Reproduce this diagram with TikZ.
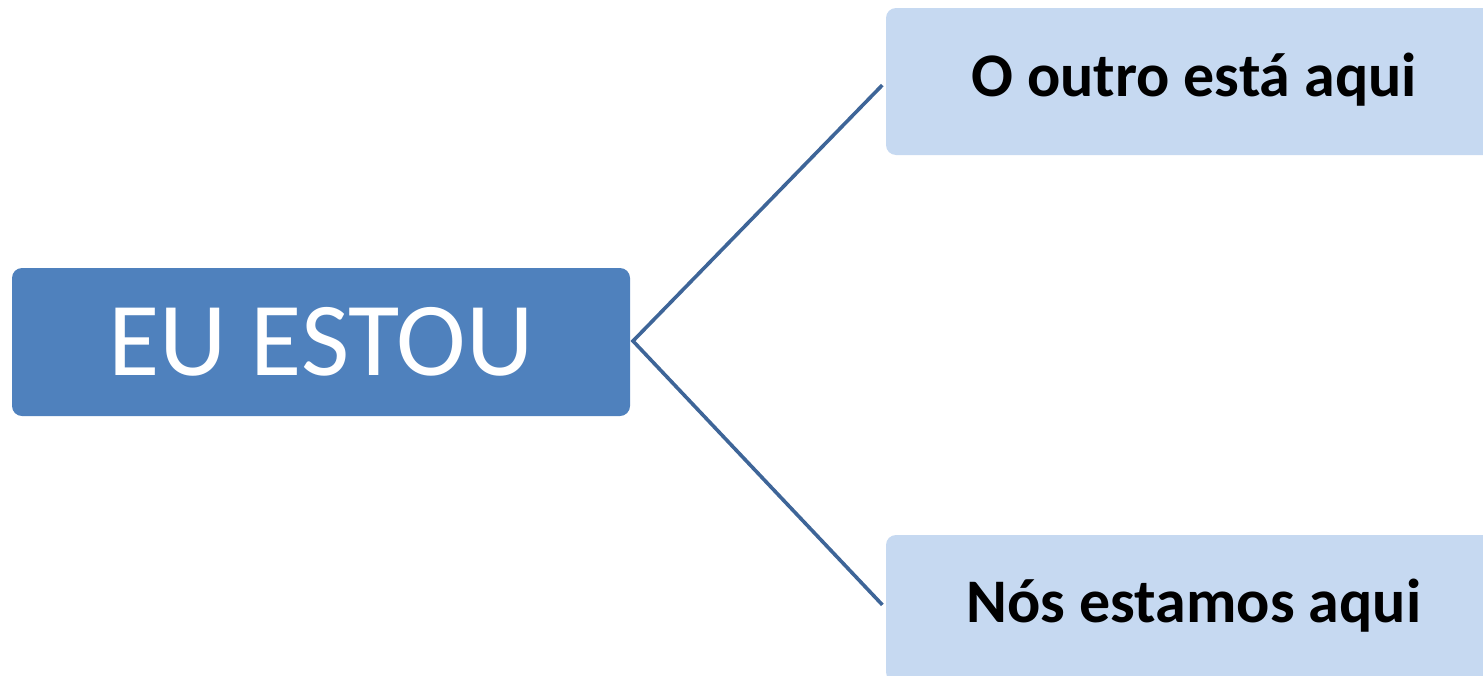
\documentclass[tikz,border=0pt]{standalone}
\usepackage{fontspec}
\setmainfont{Carlito}
\definecolor{darkbox}{HTML}{4F81BD}
\definecolor{lightbox}{HTML}{C6D9F1}
\definecolor{linkcol}{HTML}{3E6598}
\begin{document}
\begin{tikzpicture}[x=1pt,y=-1pt,
  mainbox/.style={fill=darkbox, rounded corners=10pt, text=white, minimum width=618pt, minimum height=148pt, inner sep=0pt, font=\fontsize{105}{115}\selectfont},
  sidebox/.style={fill=lightbox, rounded corners=10pt, text=black, minimum width=620pt, minimum height=147pt, inner sep=0pt},
  sidetext/.style={text=black, inner sep=0pt, font=\fontsize{62}{70}\selectfont\bfseries},
  link/.style={draw=linkcol, line width=3.6pt}]
\useasboundingbox (0,0) rectangle (1483,675);
\clip (0,0) rectangle (1483,675);
\node[mainbox] (L) at (321,342) {EU ESTOU};
\node[sidebox] (T) at (1196,81.5) {};
\node[sidebox] (B) at (1196,608.5) {};
\node[sidetext] (Tt) at (1194,80) {O outro está aqui};
\node[sidetext] (Bt) at (1194,606) {Nós estamos aqui};
\coordinate (J) at (633,341);
\draw[link, shorten <=5pt, shorten >=5pt] (T.west) -- (J) -- (B.west);
\end{tikzpicture}
\end{document}
